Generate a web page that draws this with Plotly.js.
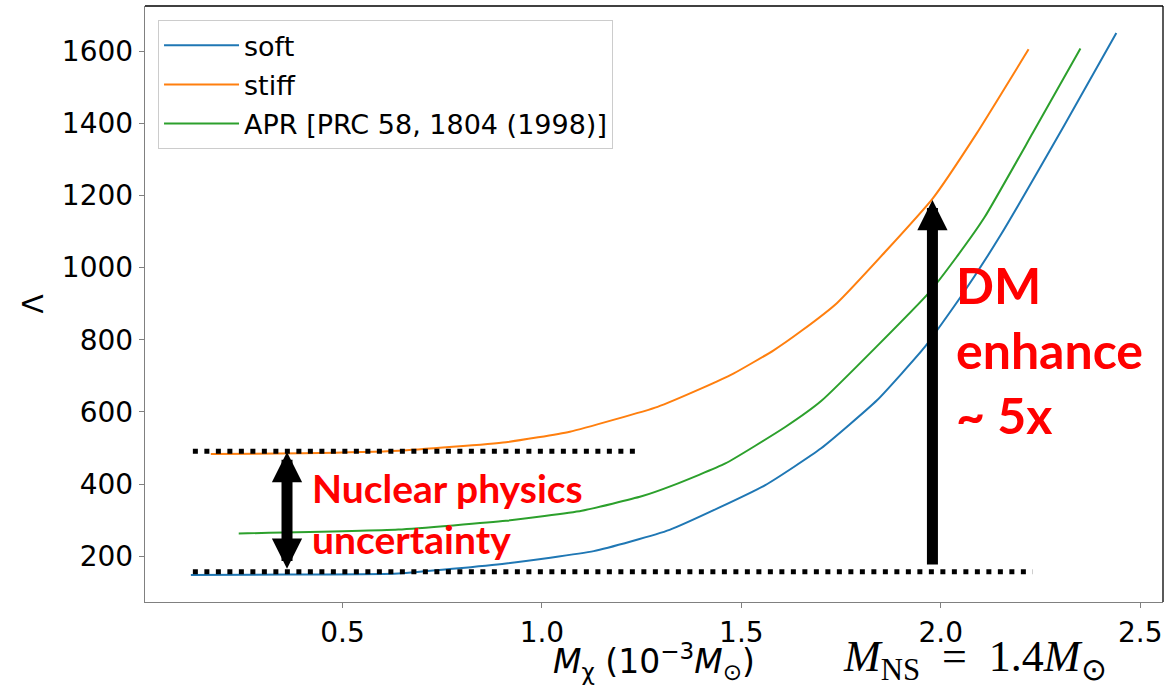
<!DOCTYPE html>
<html>
<head>
<meta charset="utf-8">
<script src="https://cdn.plot.ly/plotly-3.0.1.min.js"></script>
<style>
  html, body { margin: 0; padding: 0; background: #fff; }
  #chart { width: 1167px; height: 685px; }
</style>
</head>
<body>
<div id="chart"></div>
<script>
// ---- data ----
const seriesNames = ["soft", "stiff", "APR [PRC 58, 1804 (1998)]"];
const seriesColors = ["#1f77b4", "#ff7f0e", "#2ca02c"];

const softX = [0.12, 0.36, 0.64, 0.91, 1.13, 1.32, 1.56, 1.70, 1.84, 1.96, 2.05, 2.15, 2.31, 2.44];
const softY = [148, 149, 152, 180, 214, 273, 397, 499, 632, 780, 919, 1090, 1395, 1650];

const stiffX = [0.17, 0.40, 0.64, 0.91, 1.07, 1.29, 1.40, 1.48, 1.58, 1.65, 1.74, 1.98, 2.09, 2.22];
const stiffY = [483, 485, 492, 516, 545, 614, 665, 706, 770, 824, 902, 1192, 1372, 1605];

const aprX = [0.24, 0.64, 0.91, 1.10, 1.25, 1.33, 1.46, 1.61, 1.70, 1.97, 2.04, 2.11, 2.23, 2.35];
const aprY = [263, 274, 298, 326, 366, 397, 457, 558, 630, 930, 1030, 1140, 1372, 1607];

// dotted reference levels (upper = stiff, lower = soft)
const levelValues = [491, 157];
const levelXStart = [0.125, 0.125];
const levelXEnd = [1.235, 2.23];

// arrows: double arrow for nuclear physics, single arrow for DM enhancement
const nuclearArrowX = 0.361;
const nuclearArrowTop = 489;
const nuclearArrowBottom = 161;
const dmArrowX = 1.979;
const dmArrowTop = 1187;
const dmArrowBottom = 173;

// text labels
const nuclearLabel = "Nuclear physics<br>uncertainty";
const nuclearLabelPos = [0.419, 319];
const dmLabel = "DM<br>enhance<br>~ 5x";
const dmLabelPos = [2.032, 771];
const nsLabel = "<i>M</i><sub>NS</sub>&nbsp; = &nbsp;1.4<i>M</i><sub>⊙</sub>";
const xTitle = "<i>M</i><sub>χ</sub> (10<sup>−3</sup><i>M</i><sub>⊙</sub>)";
const yTitle = "Λ";
const xTickVals = [0.5, 1.0, 1.5, 2.0, 2.5];
const xTickText = ["0.5", "1.0", "1.5", "2.0", "2.5"];
const yTickVals = [200, 400, 600, 800, 1000, 1200, 1400, 1600];

// ---- traces ----
const xs = [softX, stiffX, aprX];
const ys = [softY, stiffY, aprY];
const traces = seriesNames.map((n, i) => ({
  type: "scatter", mode: "lines", name: n,
  x: xs[i], y: ys[i],
  legendgroup: "g" + i,
  line: { color: seriesColors[i], width: 2, shape: "spline", smoothing: 0.45 }
}));

levelValues.forEach((v, i) => {
  traces.push({
    type: "scatter", mode: "lines", showlegend: false, hoverinfo: "skip",
    x: [levelXStart[i], levelXEnd[i]], y: [v, v],
    line: { color: "#000", width: 5, dash: "5px,6.5px" }
  });
});

const redFont = { family: "Lato, 'Open Sans', sans-serif", color: "#ff0000", weight: 700 };

const layout = {
  width: 1167, height: 685,
  margin: { l: 145, r: 4, t: 6, b: 83 },
  paper_bgcolor: "#fff", plot_bgcolor: "#fff",
  font: { family: "'DejaVu Sans', sans-serif", color: "#000" },
  showlegend: true,
  legend: {
    x: 0.0128, y: 0.976, xanchor: "left", yanchor: "top",
    bgcolor: "rgba(255,255,255,0.8)", bordercolor: "#cccccc", borderwidth: 1,
    font: { size: 27, family: "'DejaVu Sans', sans-serif" },
    itemwidth: 75,
    tracegroupgap: 1
  },
  xaxis: {
    range: [0.005, 2.557], showgrid: false, zeroline: false,
    showline: true, linecolor: "#808080", linewidth: 1.3,
    ticks: "outside", ticklen: 5, tickcolor: "#808080", tickwidth: 1,
    tickvals: xTickVals, ticktext: xTickText,
    tickfont: { size: 28 },
    title: { text: xTitle, font: { size: 33 }, standoff: 2 }
  },
  yaxis: {
    range: [73, 1725], showgrid: false, zeroline: false,
    showline: true, linecolor: "#808080", linewidth: 1.3,
    ticks: "outside", ticklen: 5, tickcolor: "#808080", tickwidth: 1,
    tickvals: yTickVals,
    tickfont: { size: 28 },
    title: { text: yTitle, font: { size: 28 }, standoff: 10 }
  },
  shapes: [
    { type: "line", xref: "paper", yref: "paper", x0: 0, x1: 1, y0: 1, y1: 1, line: { color: "#000", width: 1.3 } },
    { type: "line", xref: "paper", yref: "paper", x0: 1, x1: 1, y0: 0, y1: 1, line: { color: "#000", width: 1.3 } }
  ],
  annotations: [
    {
      x: nuclearArrowX, y: nuclearArrowTop, ax: nuclearArrowX, ay: nuclearArrowBottom,
      xref: "x", yref: "y", axref: "x", ayref: "y", text: "", showarrow: true,
      arrowhead: 2, startarrowhead: 2, arrowside: "end+start",
      arrowsize: 0.55, startarrowsize: 0.55, arrowwidth: 11, arrowcolor: "#000",
      standoff: 0, startstandoff: 0
    },
    {
      x: dmArrowX, y: dmArrowTop, ax: dmArrowX, ay: dmArrowBottom,
      xref: "x", yref: "y", axref: "x", ayref: "y", text: "", showarrow: true,
      arrowhead: 2, arrowsize: 0.55, arrowwidth: 11, arrowcolor: "#000",
      standoff: 0
    },
    {
      x: nuclearLabelPos[0], y: nuclearLabelPos[1], xref: "x", yref: "y",
      xanchor: "left", yanchor: "middle", align: "left", showarrow: false,
      text: "<b>" + nuclearLabel + "</b>", font: Object.assign({ size: 39 }, redFont)
    },
    {
      x: dmLabelPos[0], y: dmLabelPos[1], xref: "x", yref: "y",
      xanchor: "left", yanchor: "middle", align: "left", showarrow: false,
      text: "<b>" + dmLabel + "</b>", font: Object.assign({ size: 50 }, redFont)
    },
    {
      x: 0.684, y: -0.0965, xref: "paper", yref: "paper",
      xanchor: "left", yanchor: "middle", showarrow: false,
      text: nsLabel, font: { size: 44, family: "'Liberation Serif', serif", color: "#000" }
    }
  ]
};

Plotly.newPlot("chart", traces, layout, { staticPlot: true, displayModeBar: false });
</script>
</body>
</html>
